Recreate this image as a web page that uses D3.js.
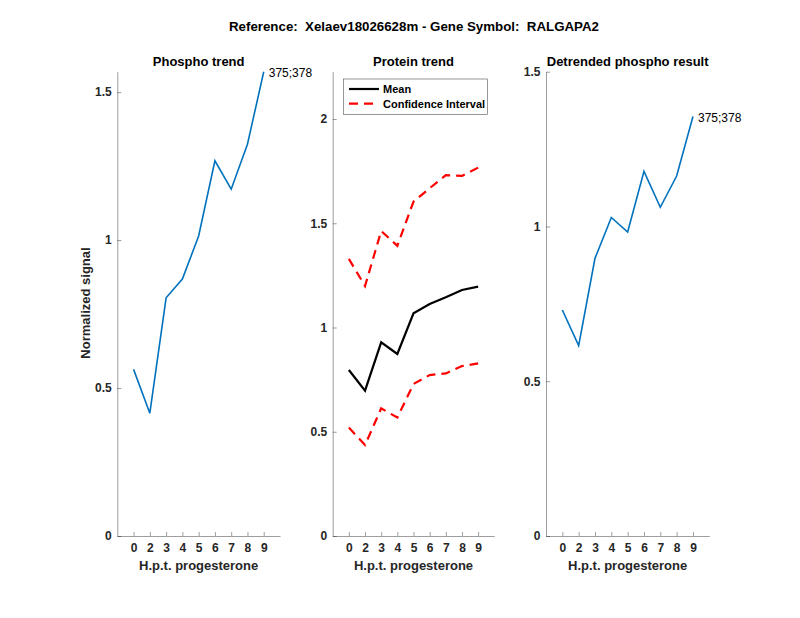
<!DOCTYPE html>
<html><head><meta charset="utf-8">
<script src="https://cdn.jsdelivr.net/npm/d3@7"></script>
<style>body{margin:0;background:#fff}svg{display:block}text{font-family:"Liberation Sans",Arial,Helvetica,sans-serif}</style>
</head><body>
<svg id="c" width="800" height="618"></svg>
<script>
const timeLabels = ["0","2","3","4","5","6","7","8","9"];
const phospho = [0.563,0.415,0.805,0.868,1.014,1.268,1.172,1.324,1.569];
const proteinMean = [0.796,0.697,0.929,0.873,1.068,1.113,1.145,1.180,1.196];
const proteinUpper = [1.329,1.199,1.463,1.392,1.604,1.668,1.731,1.727,1.767];
const proteinLower = [0.520,0.436,0.612,0.568,0.729,0.772,0.780,0.815,0.828];
const detrended = [0.730,0.615,0.897,1.029,0.982,1.178,1.062,1.163,1.355];
const peptideLabel = "375;378";
const yTicks1 = [0,0.5,1,1.5];
const yTicks2 = [0,0.5,1,1.5,2];
const yTicks3 = [0,0.5,1,1.5];

const svg = d3.select("#c");
const axisColor = "#262626";
const plotTop = 71.7, plotBottom = 536;

svg.append("text").attr("x",414).attr("y",31).attr("text-anchor","middle")
  .attr("font-size",13.3).attr("font-weight","bold").attr("fill","#000")
  .attr("xml:space","preserve")
  .text("Reference:  Xelaev18026628m - Gene Symbol:  RALGAPA2");

function panel(x0,x1,ymax,yt,title){
  const x = d3.scaleLinear().domain([-1,timeLabels.length]).range([x0,x1]);
  const y = d3.scaleLinear().domain([0,ymax]).range([plotBottom,plotTop]);
  const g = svg.append("g");
  const xa = g.append("g").attr("transform",`translate(0,${plotBottom})`)
    .call(d3.axisBottom(x).tickValues(d3.range(timeLabels.length)).tickFormat(i=>timeLabels[i]).tickSizeInner(-4).tickSizeOuter(0).tickPadding(7));
  const ya = g.append("g").attr("transform",`translate(${x0},0)`)
    .call(d3.axisLeft(y).tickValues(yt).tickFormat(d=>d3.format("")(d)).tickSizeInner(-4).tickSizeOuter(0).tickPadding(5.5));
  [xa,ya].forEach(a=>{
    a.select(".domain").attr("stroke",axisColor).attr("stroke-width",0.6).attr("stroke-opacity",0.75);
    a.selectAll(".tick line").attr("stroke",axisColor).attr("stroke-width",0.6).attr("stroke-opacity",0.75);
    a.selectAll(".tick text").attr("fill",axisColor).attr("font-size",12).attr("font-weight","bold")
      .attr("font-family",'"Liberation Sans",Arial,sans-serif');
  });
  g.append("text").attr("x",(x0+x1)/2).attr("y",569.5).attr("text-anchor","middle")
    .attr("font-size",13).attr("font-weight","bold").attr("fill",axisColor).text("H.p.t. progesterone");
  g.append("text").attr("x",(x0+x1)/2).attr("y",65.5).attr("text-anchor","middle")
    .attr("font-size",13).attr("font-weight","bold").attr("fill","#000").text(title);
  return {x,y,g};
}
const line = (p)=>d3.line().x((d,i)=>p.x(i)).y(d=>p.y(d));

// Panel 1
const p1 = panel(117.3,280,1.569,yTicks1,"Phospho trend");
p1.g.append("path").datum(phospho).attr("d",line(p1)).attr("fill","none").attr("stroke","#0072BD").attr("stroke-width",1.6);
p1.g.append("text").attr("x",p1.x(phospho.length-1)+5).attr("y",p1.y(phospho[phospho.length-1])+5)
  .attr("font-size",12).attr("fill","#000").text(peptideLabel);
svg.append("text").attr("transform","translate(89.5,303) rotate(-90)").attr("text-anchor","middle")
  .attr("font-size",13).attr("font-weight","bold").attr("fill",axisColor).text("Normalized signal");

// Panel 2
const p2 = panel(332.7,494.3,2.227,yTicks2,"Protein trend");
p2.g.append("path").datum(proteinUpper).attr("d",line(p2)).attr("fill","none").attr("stroke","#FF0000").attr("stroke-width",2.2).attr("stroke-dasharray","9,6");
p2.g.append("path").datum(proteinLower).attr("d",line(p2)).attr("fill","none").attr("stroke","#FF0000").attr("stroke-width",2.2).attr("stroke-dasharray","9,6");
p2.g.append("path").datum(proteinMean).attr("d",line(p2)).attr("fill","none").attr("stroke","#000").attr("stroke-width",2.2);
const lg = p2.g.append("g");
lg.append("rect").attr("x",343.3).attr("y",79).attr("width",144.4).attr("height",35.3).attr("fill","#fff").attr("stroke","#262626").attr("stroke-width",0.6).attr("stroke-opacity",0.8);
lg.append("line").attr("x1",349).attr("x2",379).attr("y1",89).attr("y2",89).attr("stroke","#000").attr("stroke-width",2.2);
lg.append("line").attr("x1",349).attr("x2",379).attr("y1",103.7).attr("y2",103.7).attr("stroke","#FF0000").attr("stroke-width",2.2).attr("stroke-dasharray","9,6");
lg.append("text").attr("x",383).attr("y",93).attr("font-size",11).attr("font-weight","bold").attr("fill","#000").text("Mean");
lg.append("text").attr("x",383).attr("y",108).attr("font-size",11).attr("font-weight","bold").attr("fill","#000").text("Confidence Interval");

// Panel 3
const p3 = panel(546,709.3,1.5,yTicks3,"Detrended phospho result");
p3.g.append("path").datum(detrended).attr("d",line(p3)).attr("fill","none").attr("stroke","#0072BD").attr("stroke-width",1.6);
p3.g.append("text").attr("x",p3.x(detrended.length-1)+5).attr("y",p3.y(detrended[detrended.length-1])+5)
  .attr("font-size",12).attr("fill","#000").text(peptideLabel);
</script>
</body></html>
